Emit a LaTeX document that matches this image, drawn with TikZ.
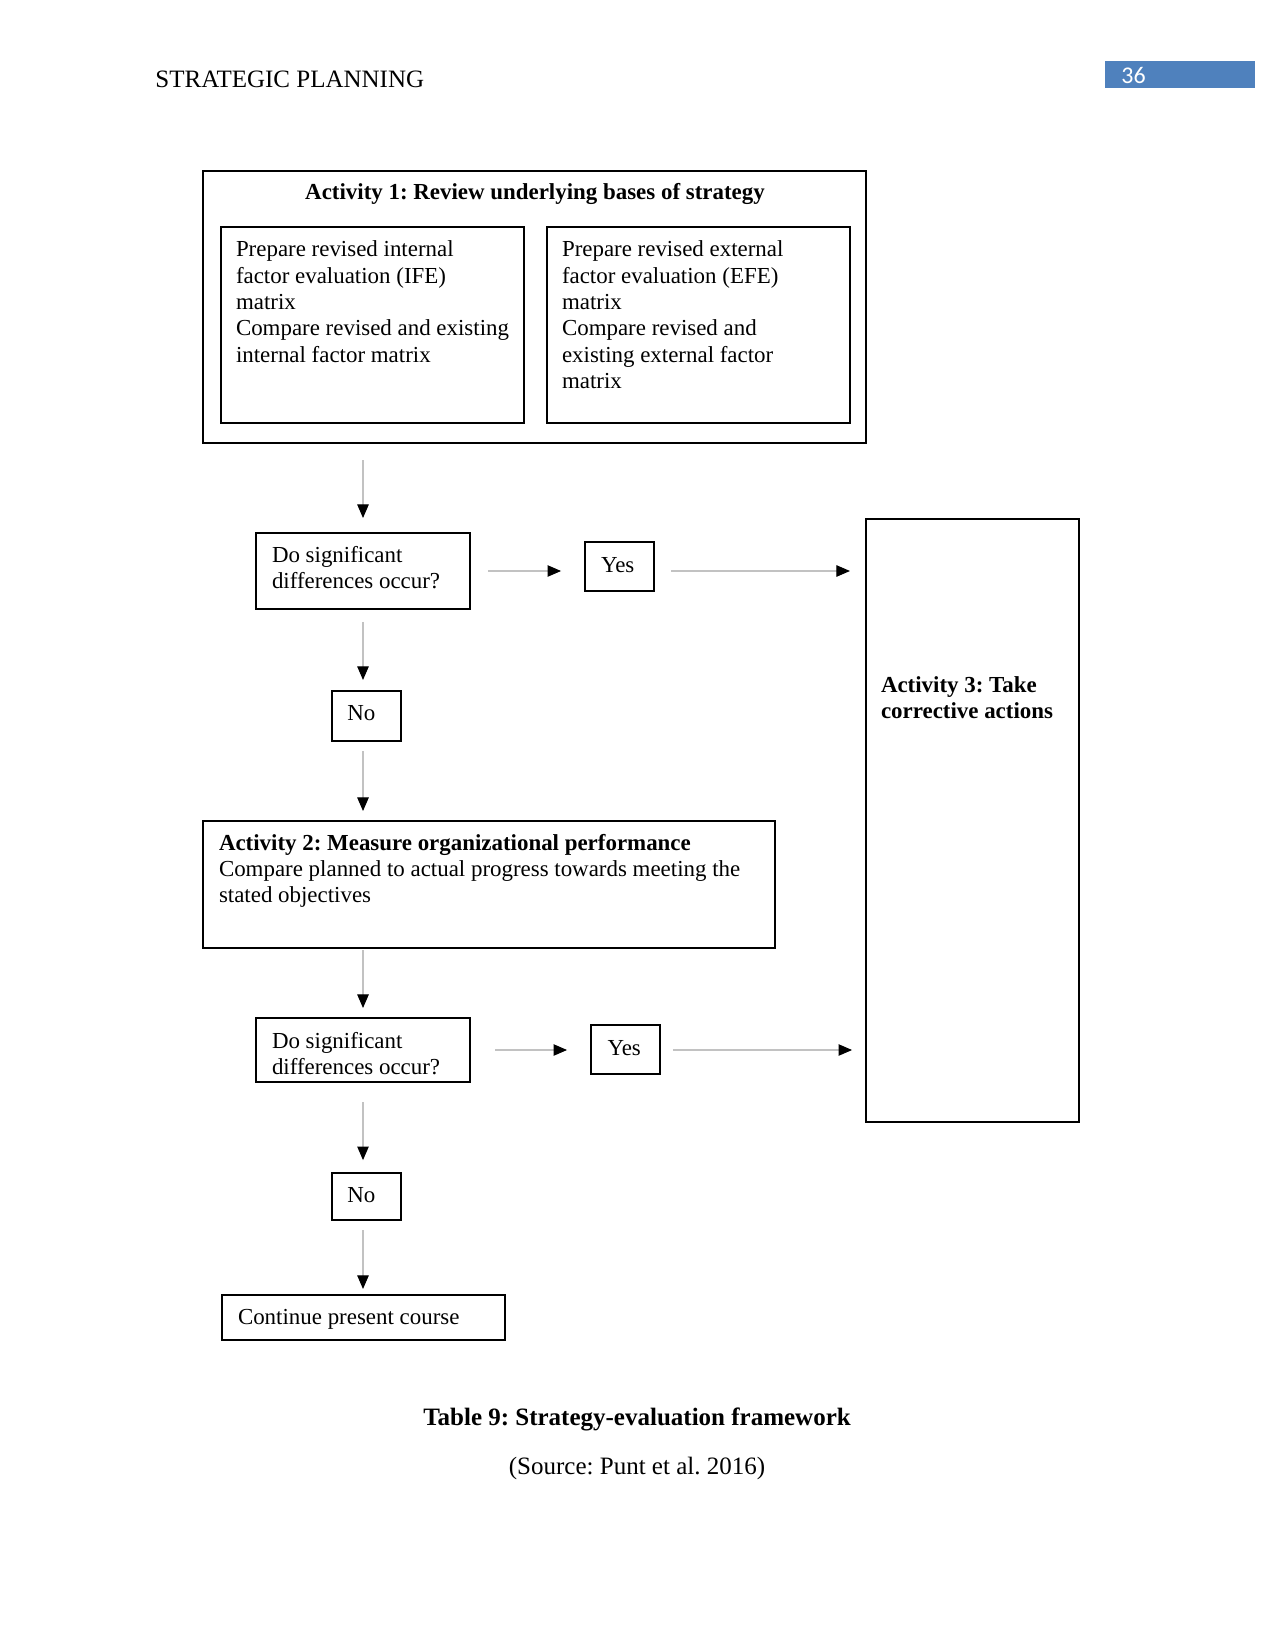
\documentclass[tikz,border=0pt]{standalone}
\usepackage{fontspec}
\setmainfont{Liberation Serif}
\newfontfamily\numfont{Carlito}
\usetikzlibrary{arrows.meta,fit}
\definecolor{hdrblue}{HTML}{4F81BD}
\definecolor{lnk}{gray}{0.76}
\newcommand\fl{\rule{0pt}{9pt}}
\frenchspacing
\begin{document}
\frenchspacing
\begin{tikzpicture}[x=0.48pt,y=-0.48pt,
  box/.style={draw=black, line width=0.5pt, inner sep=0pt, outer sep=0pt},
  txt/.style={inner sep=0pt, outer sep=0pt, font=\fontsize{11}{12.63}\selectfont, align=left, anchor=north west},
  flow/.style={draw=lnk, line width=0.5pt, -{Triangle[length=6.5pt,width=5.5pt,color=black]}},
]
\useasboundingbox (0,0) rectangle (1275,1651);
% header
\node[inner sep=0pt, anchor=base west, font=\fontsize{12}{14}\selectfont] (hdr) at (155,87.5) {STRATEGIC PLANNING};
\node[fill=hdrblue, inner sep=0pt, fit={(1105,61) (1255,88)}] (pgbox) {};
\node[inner sep=0pt, anchor=base west, text=white, font=\numfont\fontsize{11.5}{13}\selectfont] (pg) at (1121,83.5) {36};

% boxes
\node[box, fit={(203,171) (866,443)}] (A1) {};
\node[box, fit={(221,227) (524,423)}] (L1) {};
\node[box, fit={(547,227) (850,423)}] (R1) {};
\node[box, fit={(256,533) (470,609)}] (Do1) {};
\node[box, fit={(585,542) (654,591)}] (Yes1) {};
\node[box, fit={(866,519) (1079,1122)}] (A3) {};
\node[box, fit={(332,691) (401,741)}] (No1) {};
\node[box, fit={(203,821) (775,948)}] (A2) {};
\node[box, fit={(256,1018) (470,1082)}] (Do2) {};
\node[box, fit={(591,1025) (660,1074)}] (Yes2) {};
\node[box, fit={(332,1173) (401,1220)}] (No2) {};
\node[box, fit={(222,1295) (505,1340)}] (Cont) {};

% texts
\node[txt, anchor=north, font=\bfseries\fontsize{11}{12.63}\selectfont] (A1t) at (535,181) {\fl Activity 1: Review underlying bases of strategy};
\node[txt] (L1t) at (236,238) {\fl Prepare revised internal\\factor evaluation (IFE)\\matrix\\Compare revised and existing\\internal factor matrix};
\node[txt] (R1t) at (562,238) {\fl Prepare revised external\\factor evaluation (EFE)\\matrix\\Compare revised and\\existing external factor\\matrix};
\node[txt] (Do1t) at (272,543.5) {\fl Do significant\\differences occur?};
\node[txt] (Yes1t) at (601,554) {\fl Yes};
\node[txt] (No1t) at (347.4,702) {\fl No};
\node[txt, font=\bfseries\fontsize{11}{12.63}\selectfont] (A3t) at (881,673.5) {\fl Activity 3: Take\\corrective actions};
\node[txt] (A2t) at (219,831.5) {\fl\textbf{Activity 2: Measure organizational performance}\\Compare planned to actual progress towards meeting the\\stated objectives};
\node[txt] (Do2t) at (272,1029.5) {\fl Do significant\\differences occur?};
\node[txt] (Yes2t) at (607.5,1037) {\fl Yes};
\node[txt] (No2t) at (347.4,1184) {\fl No};
\node[txt] (Contt) at (238,1306) {\fl Continue present course};

% caption
\node[inner sep=0pt, anchor=base, font=\bfseries\fontsize{12}{14}\selectfont] (cap) at (637,1425.5) {Table 9: Strategy-evaluation framework};
\node[inner sep=0pt, anchor=base, font=\fontsize{12}{14}\selectfont] (src) at (637,1474) {(Source: Punt et al. 2016)};

% connectors
\draw[flow, shorten <=8.2pt, shorten >=7.2pt] (Do1.north |- A1.south) -- (Do1.north);
\draw[flow, shorten <=6.2pt, shorten >=5.3pt] (Do1.south) -- (Do1.south |- No1.north);
\draw[flow, shorten <=4.8pt, shorten >=4.8pt] (Do1.south |- No1.south) -- (Do1.south |- A2.north);
\draw[flow, shorten <=1pt, shorten >=4.8pt] (Do2.north |- A2.south) -- (Do2.north);
\draw[flow, shorten <=9.6pt, shorten >=6.2pt] (Do2.south) -- (Do2.south |- No2.north);
\draw[flow, shorten <=4.8pt, shorten >=2.9pt] (Do2.south |- No2.south) -- (Do2.south |- Cont.north);
\draw[flow, shorten <=8.6pt, shorten >=11.5pt] (Do1.east) -- (Do1.east -| Yes1.west);
\draw[flow, shorten <=8.2pt, shorten >=7.7pt] (Yes1.east |- Do1.east) -- (A3.west |- Do1.east);
\draw[flow, shorten <=12pt, shorten >=11.5pt] (Do2.east) -- (Do2.east -| Yes2.west);
\draw[flow, shorten <=6.2pt, shorten >=6.7pt] (Yes2.east |- Do2.east) -- (A3.west |- Do2.east);
\end{tikzpicture}
\end{document}
